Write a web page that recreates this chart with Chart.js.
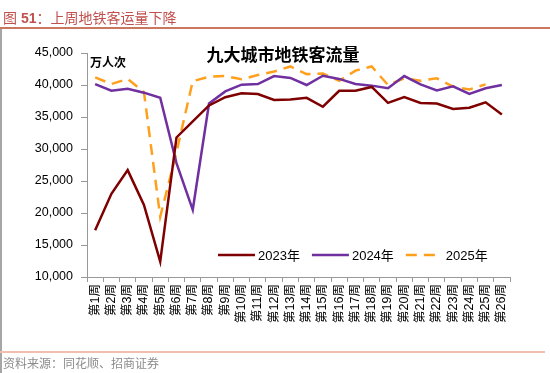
<!DOCTYPE html>
<html>
<head>
<meta charset="utf-8">
<script src="https://cdn.jsdelivr.net/npm/chart.js@4.4.1/dist/chart.umd.min.js"></script>
<style>
  body { margin: 0; background: #fff; }
  #wrap { position: relative; width: 550px; height: 373px; overflow: hidden; font-family: "Liberation Sans", "Noto Sans CJK SC", sans-serif; }
  #myChart { position: absolute; left: 0; top: 0; }
  .head { position: absolute; left: 3px; top: 7px; font-size: 14px; color: #c0504d; white-space: nowrap; }
  .head b { font-family: "Liberation Sans", sans-serif; }
  .headline { position: absolute; left: 0; top: 27px; width: 550px; height: 1.5px; background: #cb7760; }
  .leftbar { position: absolute; left: 0; top: 29px; width: 2px; height: 344px; background: #a6a6a6; }
  .footline { position: absolute; left: 0; top: 351px; width: 545px; height: 2px; background: #f2bfae; }
  .source { position: absolute; left: 3px; top: 354px; font-size: 12px; color: #8c8c8c; white-space: nowrap; }
</style>
</head>
<body>
<div id="wrap">
  <canvas id="myChart" width="550" height="373"></canvas>
  <div class="head">图 <b>51</b>：上周地铁客运量下降</div>
  <div class="headline"></div>
  <div class="leftbar"></div>
  <div class="footline"></div>
  <div class="source">资料来源：同花顺、招商证券</div>
</div>
<script>
  //week labels
  const weeks = [];
  for (let i = 1; i <= 26; i++) weeks.push('第' + i + '周');

  //subway ridership, 10k person-trips
  const y2023 = [17300, 23000, 26700, 21250, 12400, 31800, 34300, 36800, 38100, 38700, 38600, 37650, 37750, 38000, 36600, 39100, 39100, 39700, 37200, 38100, 37200, 37100, 36250, 36450, 37300, 35400];
  const y2024 = [40150, 39100, 39400, 38800, 38000, 27800, 20500, 37100, 39000, 40050, 40150, 41400, 41100, 40000, 41450, 40950, 40150, 39900, 39500, 41400, 40100, 39150, 39800, 38600, 39500, 40000];
  const y2025 = [41200, 40150, 40950, 38900, 19400, 29500, 40600, 41300, 41400, 40900, 41550, 42100, 42900, 41700, 41800, 40650, 42250, 42900, 40000, 41050, 40650, 41050, 39750, 39300, 40100, null];

  const yTicks = { min: 10000, max: 45000, step: 5000 };
  const chartTitle = '九大城市地铁客流量';
  const unitLabel = '万人次';

  const cjk = '"Liberation Sans", "Noto Sans CJK SC", sans-serif';

  //title, unit and legend drawn inside the chart
  const extras = {
    id: 'extras',
    afterDraw(chart) {
      const ctx = chart.ctx;
      const area = chart.chartArea;
      ctx.save();
      ctx.fillStyle = '#000';
      ctx.textBaseline = 'middle';
      ctx.textAlign = 'center';
      ctx.font = 'bold 17px "Noto Sans CJK SC", sans-serif';
      ctx.fillText(chartTitle, 283, 55);
      ctx.textAlign = 'left';
      ctx.font = 'bold 12px "Noto Sans CJK SC", sans-serif';
      ctx.fillText(unitLabel, area.left + 3, 62);

      //legend
      let x = 218;
      const ly = 255;
      ctx.font = '13px ' + cjk;
      chart.data.datasets.forEach(function(ds) {
        ctx.strokeStyle = ds.borderColor;
        ctx.lineWidth = ds.borderWidth;
        ctx.setLineDash(ds.borderDash || []);
        ctx.beginPath();
        if (ds.borderDash) {
          ctx.moveTo(x, ly); ctx.lineTo(x + 30, ly);
        } else {
          ctx.moveTo(x, ly); ctx.lineTo(x + 37, ly);
        }
        ctx.stroke();
        ctx.setLineDash([]);
        const tx = ds.borderDash ? x + 40 : x + 40;
        ctx.fillStyle = '#000';
        ctx.fillText(ds.label, tx, ly + 1);
        x = tx + ctx.measureText(ds.label).width + 12;
      });
      ctx.restore();
    }
  };

  const data = {
    labels: weeks,
    datasets: [{
      label: '2023年',
      data: y2023,
      borderColor: '#7f0000',
      backgroundColor: '#7f0000',
      borderWidth: 2.5,
      pointRadius: 0,
      tension: 0
    }, {
      label: '2024年',
      data: y2024,
      borderColor: '#7030a0',
      backgroundColor: '#7030a0',
      borderWidth: 2.5,
      pointRadius: 0,
      tension: 0
    }, {
      label: '2025年',
      data: y2025,
      borderColor: '#ffa01c',
      backgroundColor: '#ffa01c',
      borderWidth: 2.5,
      borderDash: [11, 7],
      pointRadius: 0,
      tension: 0
    }]
  };

  const config = {
    type: 'line',
    data: data,
    options: {
      responsive: false,
      animation: false,
      layout: { padding: { top: 53, right: 40, left: 0, bottom: 0 } },
      plugins: {
        legend: { display: false },
        title: { display: false },
        tooltip: { enabled: false }
      },
      scales: {
        x: {
          offset: true,
          afterFit: function(scale) { scale.height = 96; },
          border: { color: '#999', width: 1 },
          grid: { drawOnChartArea: false, drawTicks: true, tickLength: 5, color: '#999', offset: true },
          ticks: {
            autoSkip: false,
            minRotation: 90,
            maxRotation: 90,
            padding: 2,
            color: '#000',
            font: { size: 12.5, family: cjk }
          }
        },
        y: {
          min: yTicks.min,
          max: yTicks.max,
          afterFit: function(scale) { scale.width = 87; },
          border: { color: '#999', width: 1 },
          grid: { drawOnChartArea: false, drawTicks: true, tickLength: 6, color: '#999' },
          ticks: {
            stepSize: yTicks.step,
            padding: 8,
            color: '#000',
            font: { size: 12.5, family: cjk }
          }
        }
      }
    },
    plugins: [extras]
  };

  const myChart = new Chart(document.getElementById('myChart'), config);
</script>
</body>
</html>
